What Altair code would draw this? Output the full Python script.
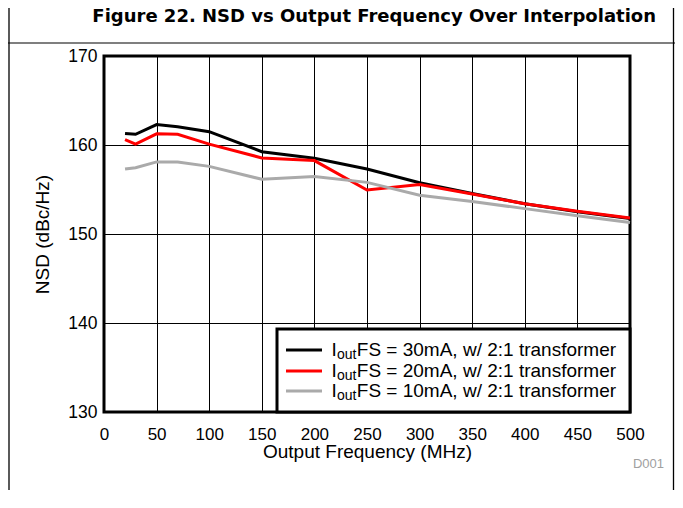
import altair as alt
import pandas as pd

# ---------------- data ----------------
freq = [20, 30, 50, 70, 100, 150, 200, 250, 300, 350, 400, 450, 500]
nsd_30ma = [161.3, 161.2, 162.3, 162.05, 161.5, 159.25, 158.5, 157.3, 155.75, 154.55, 153.4, 152.5, 151.75]
nsd_20ma = [160.6, 160.1, 161.25, 161.2, 160.1, 158.55, 158.25, 154.95, 155.55, 154.5, 153.4, 152.55, 151.8]
nsd_10ma = [157.3, 157.45, 158.1, 158.1, 157.6, 156.15, 156.45, 155.8, 154.35, 153.65, 152.85, 152.05, 151.3]

series_keys = ["30mA", "20mA", "10mA"]
series_colors = ["#000000", "#ff0000", "#aaaaaa"]
legend_prefix = "I"
legend_sub = "out"
legend_main = [
    "FS = 30mA, w/ 2:1 transformer",
    "FS = 20mA, w/ 2:1 transformer",
    "FS = 10mA, w/ 2:1 transformer",
]
x_ticks = [0, 50, 100, 150, 200, 250, 300, 350, 400, 450, 500]
y_ticks = [130, 140, 150, 160, 170]
title_text = "Figure 22. NSD vs Output Frequency Over Interpolation"
x_title = "Output Frequency (MHz)"
y_title = "NSD (dBc/Hz)"
code_text = "D001"

# ---------------- layout ----------------
W, H = 526, 356
FONT = "Liberation Sans, Arial, Helvetica, sans-serif"

rows = []
for key, vals in zip(series_keys, [nsd_30ma, nsd_20ma, nsd_10ma]):
    for f, v in zip(freq, vals):
        rows.append({"freq": f, "nsd": v, "series": key})
df = pd.DataFrame(rows)

x_enc = alt.X(
    "freq:Q",
    scale=alt.Scale(domain=[0, 500], nice=False, zero=False),
    axis=alt.Axis(
        values=x_ticks, grid=True, gridColor="black", gridWidth=1, gridOpacity=1,
        ticks=False, tickSize=0, domain=False,
        labelFont=FONT, labelFontSize=17, labelColor="black", labelPadding=14,
        labelFlush=False,
        title=x_title, titleFont=FONT, titleFontSize=19, titleFontWeight="normal",
        titleColor="black", titleX=263, titleY=45, titleAlign="center",
        titleBaseline="alphabetic",
    ),
)
y_enc = alt.Y(
    "nsd:Q",
    scale=alt.Scale(domain=[130, 170], nice=False, zero=False),
    axis=alt.Axis(
        values=y_ticks, grid=True, gridColor="black", gridWidth=1, gridOpacity=1,
        ticks=False, tickSize=0, domain=False,
        labelFont=FONT, labelFontSize=17.5, labelColor="black", labelPadding=7,
        labelFlush=False,
        title=y_title, titleFont=FONT, titleFontSize=19, titleFontWeight="normal",
        titleColor="black", titleX=-56, titleY=178, titleAlign="center",
        titleBaseline="alphabetic", titleAngle=270,
    ),
)

layers = []
for key, col in zip(series_keys, series_colors):
    layers.append(
        alt.Chart(df)
        .transform_filter(alt.datum.series == key)
        .mark_line(color=col, strokeWidth=3, strokeJoin="miter")
        .encode(x=x_enc, y=y_enc)
    )

one = alt.Data(values=[{"k": 0}])


def rule(x1, y1, x2, y2, color="black", width=1.0):
    return alt.Chart(one).mark_rule(color=color, strokeWidth=width).encode(
        x=alt.value(x1), y=alt.value(y1), x2=alt.value(x2), y2=alt.value(y2)
    )


def text(s, x, y, size, align="left", baseline="alphabetic", font=FONT,
         weight="normal", color="black"):
    return alt.Chart(one).mark_text(
        align=align, baseline=baseline, font=font, fontSize=size,
        fontWeight=weight, color=color,
    ).encode(x=alt.value(x), y=alt.value(y), text=alt.value(s))


# page frame
layers.append(rule(-95, -48, -95, 434, width=1.3))
layers.append(rule(569.5, -48, 569.5, 434, width=1.3))
layers.append(rule(-96, -13, 571, -13, width=1.2))

# title and code
layers.append(text(title_text, 552, -34.5, 18, align="right",
                   font="DejaVu Sans", weight="bold"))
layers.append(text(code_text, 560, 411.5, 13, align="right", color="#a0a0a0"))

# legend box
layers.append(
    alt.Chart(one).mark_rect(fill="white", stroke="black", strokeWidth=3).encode(
        x=alt.value(173), x2=alt.value(W), y=alt.value(273), y2=alt.value(H)
    )
)
sample_y = [294, 315, 335]
base_y = [300, 320.5, 340.7]
for col, main, sy, by in zip(series_colors, legend_main, sample_y, base_y):
    layers.append(rule(182, sy, 218, sy, color=col, width=3))
    layers.append(text(legend_prefix, 227.6, by, 19))
    layers.append(text(legend_sub, 233, by + 3, 14))
    layers.append(text(main, 252.8, by, 19))

chart = (
    alt.layer(*layers)
    .properties(
        width=W,
        height=H,
        padding={"left": 96, "top": 48, "right": 45, "bottom": 78},
        autosize=alt.AutoSizeParams(type="none"),
        background="white",
    )
    .configure_view(stroke="black", strokeWidth=3)
)

chart.save("out.html", embed_options={"renderer": "svg", "actions": False})
